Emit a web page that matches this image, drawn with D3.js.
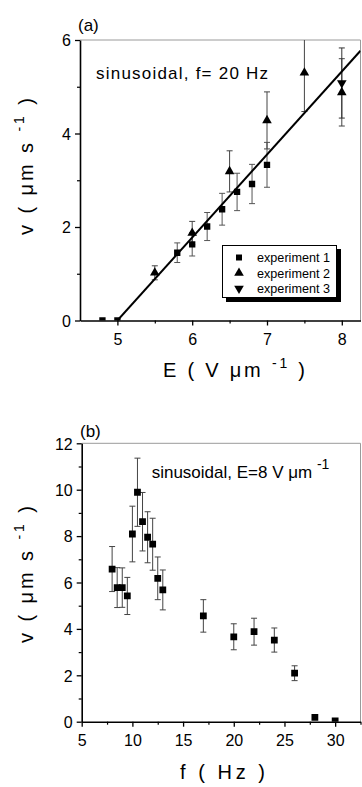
<!DOCTYPE html>
<html><head><meta charset="utf-8">
<script src="https://cdn.jsdelivr.net/npm/d3@7/dist/d3.min.js"></script>
<style>
html,body{margin:0;padding:0;background:#fff;}
svg{display:block;font-family:"Liberation Sans",Arial,sans-serif;}
</style></head>
<body>
<svg id="chart" width="362" height="787"></svg>
<script>
// ---------- Panel (a) data ----------
const exp1E = [4.8, 5.0, 5.8, 6.0, 6.2, 6.4, 6.6, 6.8, 7.0];
const exp1V = [0, 0, 1.45, 1.63, 2.01, 2.38, 2.75, 2.92, 3.33];
const exp1Err = [0, 0, 0.21, 0.25, 0.3, 0.34, 0.4, 0.42, 0.48];
const exp2E = [5.5, 6.0, 6.5, 7.0, 7.5, 8.0];
const exp2V = [1.02, 1.87, 3.19, 4.28, 5.3, 4.88];
const exp2Err = [0.15, 0.25, 0.44, 0.61, 0.83, 0.72];
const exp3E = [8.0];
const exp3V = [5.08];
const exp3Err = [0.75];
const fitE = [5.0, 8.25];
const fitV = [0, 5.77];
const aXTicks = [5, 6, 7, 8];
const aXMinor = [5.5, 6.5, 7.5];
const aYTicks = [0, 2, 4, 6];
const aYMinor = [1, 3, 5];
const legendLabels = ["experiment 1", "experiment 2", "experiment 3"];

// ---------- Panel (b) data ----------
const freq = [8, 8.5, 9, 9.5, 10, 10.5, 11, 11.5, 12, 12.5, 13, 17, 20, 22, 24, 26, 28, 30];
const vel = [6.58, 5.78, 5.78, 5.42, 8.09, 9.89, 8.62, 7.95, 7.65, 6.18, 5.68, 4.56, 3.66, 3.88, 3.52, 2.09, 0.19, 0.04];
const velErr = [0.97, 0.86, 0.85, 0.8, 1.2, 1.47, 1.26, 1.1, 1.12, 0.92, 0.86, 0.7, 0.56, 0.58, 0.52, 0.32, 0, 0];
const bXTicks = [5, 10, 15, 20, 25, 30];
const bXMinor = [7.5, 12.5, 17.5, 22.5, 27.5, 32.5];
const bYTicks = [0, 2, 4, 6, 8, 10, 12];
const bYMinor = [1, 3, 5, 7, 9, 11];

const svg = d3.select("#chart");
const FONT = "'Liberation Sans', Arial, sans-serif";

function zip(xs, ys, es) { return xs.map((x, i) => ({x: x, y: ys[i], e: es ? es[i] : 0})); }

function panel(cfg) {
  const x = d3.scaleLinear().domain(cfg.xDom).range([cfg.left, cfg.right]);
  const y = d3.scaleLinear().domain(cfg.yDom).range([cfg.bottom, cfg.top]);
  const g = svg.append("g");
  // frame top / right
  g.append("line").attr("x1", cfg.left).attr("x2", cfg.right).attr("y1", cfg.top).attr("y2", cfg.top)
    .attr("stroke", "#9a9a9a").attr("stroke-width", 1);
  g.append("line").attr("x1", cfg.right).attr("x2", cfg.right).attr("y1", cfg.top).attr("y2", cfg.bottom)
    .attr("stroke", "#9a9a9a").attr("stroke-width", 1);
  // clip
  const cid = "clip" + cfg.id;
  svg.append("clipPath").attr("id", cid).append("rect")
    .attr("x", cfg.left).attr("y", cfg.top).attr("width", cfg.right - cfg.left).attr("height", cfg.bottom - cfg.top);
  const plot = g.append("g").attr("clip-path", "url(#" + cid + ")");

  // axes
  const styleAxis = sel => {
    sel.select(".domain").attr("stroke", "#000").attr("stroke-width", 1.6);
    sel.selectAll(".tick line").attr("stroke", "#000").attr("stroke-width", 1.3);
    sel.selectAll(".tick text").attr("font-family", FONT).attr("font-size", 16).attr("fill", "#000");
  };
  const xa = g.append("g").attr("transform", `translate(0,${cfg.bottom})`)
    .call(d3.axisBottom(x).tickValues(cfg.xTicks).tickSize(5).tickSizeOuter(0).tickPadding(6).tickFormat(d3.format("d")));
  styleAxis(xa);
  xa.selectAll(".tick text").attr("dy", null).attr("y", 24.5);
  const xm = g.append("g").attr("transform", `translate(0,${cfg.bottom})`)
    .call(d3.axisBottom(x).tickValues(cfg.xMinor).tickSize(3).tickSizeOuter(0).tickFormat(""));
  xm.select(".domain").remove();
  xm.selectAll(".tick line").attr("stroke", "#000").attr("stroke-width", 1.2);

  const ya = g.append("g").attr("transform", `translate(${cfg.left},0)`)
    .call(d3.axisLeft(y).tickValues(cfg.yTicks).tickSize(5).tickSizeOuter(0).tickPadding(4).tickFormat(d3.format("d")));
  styleAxis(ya);
  ya.selectAll(".tick text").attr("dy", "0.36em");
  const ym = g.append("g").attr("transform", `translate(${cfg.left},0)`)
    .call(d3.axisLeft(y).tickValues(cfg.yMinor).tickSize(3).tickSizeOuter(0).tickFormat(""));
  ym.select(".domain").remove();
  ym.selectAll(".tick line").attr("stroke", "#000").attr("stroke-width", 1.2);

  return {x, y, g, plot};
}

function errorBars(plot, x, y, data, color, width) {
  const eb = plot.append("g").attr("stroke", color).attr("stroke-width", width || 1).attr("fill", "none");
  data.filter(d => d.e > 0).forEach(d => {
    const cx = x(d.x), y1 = y(d.y + d.e), y2 = y(d.y - d.e);
    eb.append("line").attr("x1", cx).attr("x2", cx).attr("y1", y1).attr("y2", y2);
    eb.append("line").attr("x1", cx - 3).attr("x2", cx + 3).attr("y1", y1).attr("y2", y1);
    eb.append("line").attr("x1", cx - 3).attr("x2", cx + 3).attr("y1", y2).attr("y2", y2);
  });
}

function markers(plot, x, y, data, type, size) {
  const sym = d3.symbol().type(type === "square" ? d3.symbolSquare : d3.symbolTriangle).size(size);
  plot.append("g").selectAll("path").data(data).join("path")
    .attr("d", sym())
    .attr("transform", d => `translate(${x(d.x)},${y(d.y)})` + (type === "down" ? " rotate(180)" : ""))
    .attr("fill", "#000");
}

// ================= Panel (a) =================
const A = panel({id: "a", xDom: [4.5, 8.25], yDom: [0, 6], left: 80, right: 360.5, top: 40, bottom: 320.5,
  xTicks: aXTicks, xMinor: aXMinor, yTicks: aYTicks, yMinor: aYMinor});

const d1 = zip(exp1E, exp1V, exp1Err), d2 = zip(exp2E, exp2V, exp2Err), d3d = zip(exp3E, exp3V, exp3Err);
errorBars(A.plot, A.x, A.y, d1, "#555", 1);
errorBars(A.plot, A.x, A.y, d2, "#444", 1);
errorBars(A.plot, A.x, A.y, d3d, "#333", 1);
A.plot.append("path").datum(zip(fitE, fitV))
  .attr("d", d3.line().x(d => A.x(d.x)).y(d => A.y(d.y)))
  .attr("stroke", "#000").attr("stroke-width", 2).attr("fill", "none");
markers(A.plot, A.x, A.y, d1, "square", 40);
markers(A.plot, A.x, A.y, d2, "up", 40);
markers(A.plot, A.x, A.y, d3d, "down", 40);

// legend
const lg = A.g.append("g");
lg.append("rect").attr("x", 226).attr("y", 249).attr("width", 115).attr("height", 53).attr("fill", "#000");
lg.append("rect").attr("x", 222.5).attr("y", 245.5).attr("width", 114).attr("height", 52)
  .attr("fill", "#fff").attr("stroke", "#000").attr("stroke-width", 1);
const legTypes = ["square", "up", "down"];
legendLabels.forEach((lab, i) => {
  const cy = 257.5 + i * 15.5;
  lg.append("path").attr("d", d3.symbol().type(i === 0 ? d3.symbolSquare : d3.symbolTriangle).size(i === 0 ? 36 : 40)())
    .attr("transform", `translate(239,${cy})` + (legTypes[i] === "down" ? " rotate(180)" : ""))
    .attr("fill", "#000");
  lg.append("text").attr("x", 257).attr("y", cy + 4.5).attr("font-family", FONT).attr("font-size", 12.5)
    .attr("textLength", 73).attr("lengthAdjust", "spacingAndGlyphs").text(lab);
});

// annotations and labels (a)
A.g.append("text").attr("x", 78).attr("y", 31).attr("font-family", FONT).attr("font-size", 17).text("(a)");
A.g.append("text").attr("x", 96).attr("y", 79).attr("font-family", FONT).attr("font-size", 17)
  .attr("textLength", 172).attr("lengthAdjust", "spacing").text("sinusoidal, f= 20 Hz");

function unitLabel(parent, pre, post, attrs, len) {
  const t = parent.append("text").attr("font-family", FONT).attr("font-size", 20).attr("fill", "#000");
  Object.entries(attrs).forEach(([k, v]) => t.attr(k, v));
  t.append("tspan").text(pre);
  t.append("tspan").attr("font-size", 14).attr("dy", -9).text("-1");
  t.append("tspan").attr("dy", 9).text(post);
  if (len) t.attr("textLength", len).attr("lengthAdjust", "spacing");
  return t;
}
unitLabel(A.g, "E  ( V μm ", "  )", {x: 163, y: 377}, 142);
unitLabel(A.g, "v  ( μm s ", " )", {transform: "translate(33,235) rotate(-90)", x: 0, y: 0}, 137);

// ================= Panel (b) =================
const B = panel({id: "b", xDom: [5, 32.5], yDom: [0, 12], left: 81.7, right: 360.5, top: 443.3, bottom: 721.7,
  xTicks: bXTicks, xMinor: bXMinor, yTicks: bYTicks, yMinor: bYMinor});
const db = zip(freq, vel, velErr);
errorBars(B.plot, B.x, B.y, db, "#444", 1);
markers(B.plot, B.x, B.y, db, "square", 46);

B.g.append("text").attr("x", 80).attr("y", 437).attr("font-family", FONT).attr("font-size", 17).text("(b)");
unitLabel(B.g, "sinusoidal, E=8 V μm ", "", {x: 151.7, y: 478}, null).attr("font-size", 17);
unitLabel(B.g, "v  ( μm s ", " )", {transform: "translate(33,643) rotate(-90)", x: 0, y: 0}, 137);
B.g.append("text").attr("x", 180).attr("y", 779).attr("font-family", FONT).attr("font-size", 20)
  .attr("textLength", 85).attr("lengthAdjust", "spacing").text("f  ( Hz )");
</script>
</body></html>
